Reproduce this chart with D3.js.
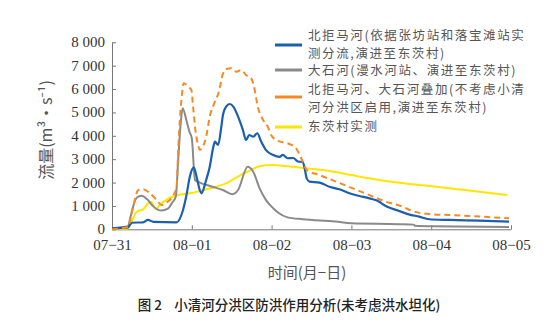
<!DOCTYPE html>
<html><head><meta charset="utf-8">
<script src="https://cdn.jsdelivr.net/npm/d3@7"></script>
<style>body{margin:0;background:#fff}svg{display:block}</style>
</head><body><div id="chart"></div>
<script>
// ---- data (day offset from 07-31 00:00, flow m3/s) ----
const xTickLabels = ["07−31","08−01","08−02","08−03","08−04","08−05"];
const yTicks = [0,1000,2000,3000,4000,5000,6000,7000,8000];

const blueT = [0,0.2,0.25,0.39,0.45,0.52,0.81,0.89,0.93,0.975,1.025,1.06,1.1,1.12,1.18,1.225,1.27,1.29,1.33,1.37,1.39,1.43,1.475,1.52,1.58,1.64,1.68,1.72,1.77,1.82,1.87,1.93,2.02,2.1,2.14,2.2,2.27,2.33,2.39,2.41,2.44,2.475,2.6,2.725,2.85,2.975,3.1,3.225,3.35,3.39,3.6,3.72,3.85,3.975,4.225,4.6,4.975];
const blueV = [40,85,280,300,400,320,300,825,1400,2250,2650,2250,1680,1540,2110,2680,3530,3750,3610,4390,4890,5250,5360,5250,4820,4250,3820,4035,3960,4110,3750,3390,3180,3100,3180,3040,3050,2900,2880,2680,2180,2040,2000,1820,1710,1540,1425,1325,1180,1080,780,640,540,430,400,370,330];

const grayT = [0,0.2,0.23,0.265,0.29,0.33,0.37,0.45,0.52,0.62,0.7,0.75,0.8,0.83,0.86,0.885,0.93,0.97,1.0,1.04,1.1,1.26,1.39,1.51,1.58,1.7,1.77,1.85,1.93,2.02,2.08,2.2,2.39,2.8,3.0,3.6,3.78,3.8,4.0,4.975];
const grayV = [50,130,500,970,1250,1400,1430,1250,970,800,880,1120,1400,3000,4500,5180,4700,4180,3900,2110,2000,1820,1680,1500,1680,2680,2465,1750,1250,900,720,510,430,330,255,220,200,150,130,100];

const orangeT = [0,0.2,0.26,0.33,0.39,0.475,0.56,0.62,0.68,0.77,0.81,0.83,0.87,0.9,0.955,0.995,1.016,1.05,1.08,1.1,1.18,1.225,1.29,1.34,1.385,1.425,1.495,1.56,1.62,1.68,1.745,1.775,1.83,1.89,1.95,2.0,2.06,2.22,2.3,2.35,2.39,2.44,2.6,2.81,3.02,3.22,3.43,3.64,3.75,3.97,4.22,4.64,4.975];
const orangeV = [0,100,900,1680,1710,1540,1250,1040,1140,1470,1820,3450,5530,6250,6100,5960,5250,4110,3600,3400,3960,4820,5460,5890,6600,6850,6890,6740,6820,6600,6460,6170,5200,4700,4400,4000,3820,3650,3500,3200,2900,2540,2320,2040,1750,1470,1180,970,800,655,610,540,470];

const yellowT = [0,0.2,0.26,0.31,0.39,0.45,0.49,0.55,0.6,0.7,0.85,1.0,1.15,1.3,1.45,1.6,1.72,1.85,2.0,2.2,2.4,2.8,3.0,3.22,3.5,3.9,4.5,4.95];
const yellowV = [20,30,450,750,850,1100,1180,870,1050,1300,1480,1550,1680,1820,2000,2300,2500,2700,2750,2700,2620,2450,2320,2180,2030,1880,1650,1470];

const legendLines = [
  ["北拒马河(依据张坊站和落宝滩站实","测分流,演进至东茨村)"],
  ["大石河(漫水河站、演进至东茨村)"],
  ["北拒马河、大石河叠加(不考虑小清","河分洪区启用,演进至东茨村)"],
  ["东茨村实测"]
];

// ---- drawing ----
const W = 553, H = 323;
const svg = d3.select("#chart").append("svg").attr("width", W).attr("height", H);
const x = d3.scaleLinear().domain([0,5]).range([112,511]);
const y = d3.scaleLinear().domain([0,8000]).range([229.3,42.3]);
const axisColor = "#777";
const serif = "'Liberation Serif','DejaVu Serif',serif";
const cjk = "'Noto Sans CJK SC','Noto Sans',sans-serif";

const gx = svg.append("g").attr("transform", `translate(0,${y(0)})`)
  .call(d3.axisBottom(x).tickValues([0,1,2,3,4,5]).tickFormat((d,i)=>xTickLabels[i]).tickSizeInner(-4).tickSizeOuter(0).tickPadding(8));
const gy = svg.append("g").attr("transform", `translate(${x(0)},0)`)
  .call(d3.axisLeft(y).tickValues(yTicks).tickFormat(d => d===0 ? "0" : d3.format(",")(d).replace(",", " ")).tickSizeInner(-4).tickSizeOuter(0).tickPadding(7));
[gx, gy].forEach(g => {
  g.select(".domain").attr("stroke", axisColor).attr("stroke-width", 1);
  g.selectAll(".tick line").attr("stroke", axisColor);
  g.selectAll(".tick text").attr("fill", "#333").style("font-family", serif).style("font-size", "15px");
});
gx.selectAll(".tick text").attr("dy", "0.85em");
gy.selectAll(".tick text").attr("dy", "0.3em");

const line = d3.line().x(d => x(d[0])).y(d => y(d[1])).curve(d3.curveMonotoneX);
const zipS = (t, v) => t.map((tt, i) => [tt, v[i]]);

const series = [
  {t: yellowT, v: yellowV, color: "#ffe600", dash: null, w: 2},
  {t: grayT, v: grayV, color: "#8a8a8a", dash: null, w: 2},
  {t: blueT, v: blueV, color: "#1a5fb0", dash: null, w: 2.2},
  {t: orangeT, v: orangeV, color: "#f58a25", dash: "6,4", w: 2}
];
series.forEach(s => {
  svg.append("path").datum(zipS(s.t, s.v)).attr("d", line)
    .attr("fill", "none").attr("stroke", s.color).attr("stroke-width", s.w)
    .attr("stroke-dasharray", s.dash).attr("stroke-linejoin", "round");
});

// legend
const legColors = ["#1a5fb0", "#8a8a8a", "#f58a25", "#ffe600"];
const legY = [45, 70, 97, 127];
const legTextY = [[35.5, 53.5], [71], [90, 107.5], [127]];
legendLines.forEach((lines, i) => {
  svg.append("line").attr("x1", 275).attr("x2", 302).attr("y1", legY[i]).attr("y2", legY[i])
    .attr("stroke", legColors[i]).attr("stroke-width", 3);
  lines.forEach((t, j) => {
    svg.append("text").attr("x", 308).attr("y", legTextY[i][j]).attr("dy", "0.35em")
      .attr("fill", "#555").style("font-family", cjk).style("font-size", "12.5px")
      .style("letter-spacing", "1.6px").text(t);
  });
});

// axis titles
svg.append("text").attr("transform", "translate(46,130) rotate(-90)").attr("text-anchor", "middle")
  .attr("dy", "0.35em").attr("fill", "#555").style("font-family", cjk).style("font-size", "16px")
  .text("流量(m³·s⁻¹)");
svg.append("text").attr("x", 307).attr("y", 273).attr("dy", "0.35em").attr("text-anchor", "middle")
  .attr("fill", "#555").style("font-family", cjk).style("font-size", "15px").text("时间(月−日)");
svg.append("text").attr("x", 289).attr("y", 305).attr("dy", "0.35em").attr("text-anchor", "middle")
  .attr("fill", "#222").style("font-family", cjk).style("font-size", "13.5px").style("font-weight", "500")
  .style("white-space", "pre").attr("xml:space", "preserve")
  .text("图 2    小清河分洪区防洪作用分析(未考虑洪水坦化)");
</script></body></html>
